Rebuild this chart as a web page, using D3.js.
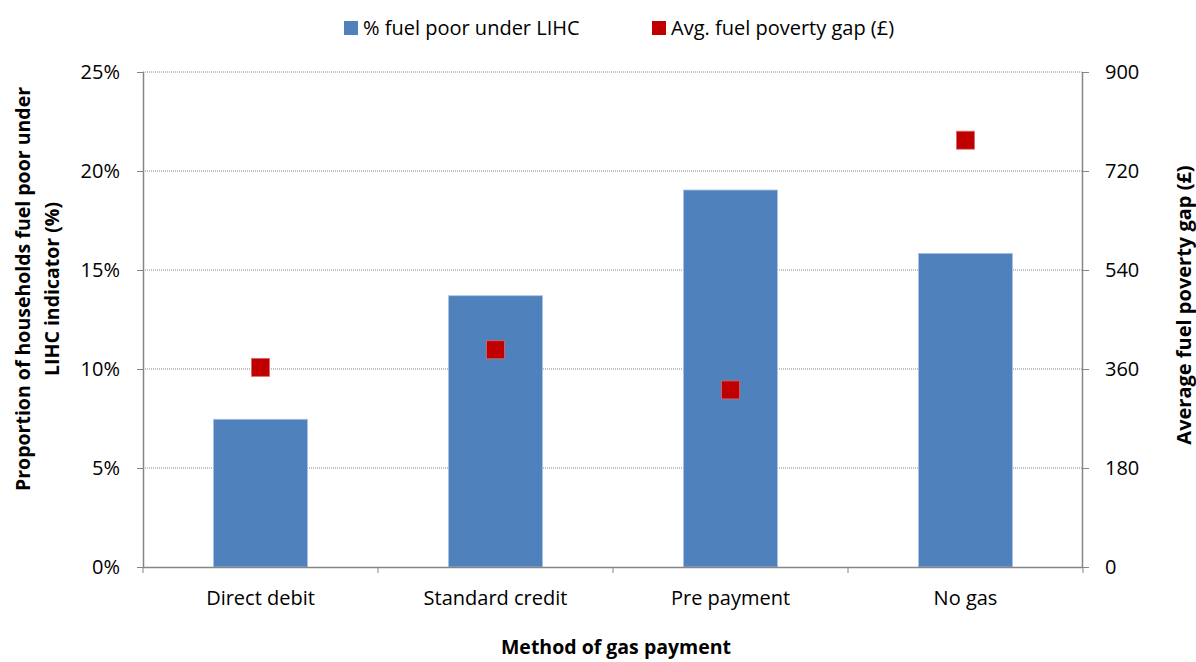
<!DOCTYPE html>
<html>
<head>
<meta charset="utf-8">
<script src="https://cdn.jsdelivr.net/npm/d3@7"></script>
<style>
  body { margin: 0; background: #fff; }
  text { font-family: "Open Sans", Lato, sans-serif; fill: #000; }
  .title { font-weight: bold; }
</style>
</head>
<body>
<div id="chart"></div>
<script>
// chart values
var categories = ["Direct debit", "Standard credit", "Pre payment", "No gas"];
var pctFuelPoor = [7.46, 13.7, 19.04, 15.84];     // % of households, left axis
var avgGap = [363, 395, 322, 776];                // pounds, right axis
var leftTicks = [0, 5, 10, 15, 20, 25];
var rightTicks = [0, 180, 360, 540, 720, 900];
var seriesNames = ["% fuel poor under LIHC", "Avg. fuel poverty gap (\u00a3)"];

var margin = {top: 72, right: 113, bottom: 95, left: 143},
    width = 1196 - margin.left - margin.right,
    height = 662 - margin.top - margin.bottom;

var barColour = "#4f81bd",
    markerColour = "#c00000",
    axisColour = "#868686",
    fontSize = "20px";

var svg = d3.select("#chart")
            .append("svg")
            .attr("width", 1196)
            .attr("height", 662);

var g = svg.append("g")
           .attr("transform", "translate(" + margin.left + "," + margin.top + ")");

var xScale = d3.scaleBand().domain(categories).range([0, width]).paddingInner(0).paddingOuter(0);
var yLeft = d3.scaleLinear().domain([0, 25]).range([height, 0]);
var yRight = d3.scaleLinear().domain([0, 900]).range([height, 0]);

// gridlines (dotted)
g.selectAll(".grid")
    .data(leftTicks.filter(function(d){ return d > 0; }))
    .enter().append("line")
    .attr("class", "grid")
    .attr("x1", 0)
    .attr("x2", width)
    .attr("y1", function(d){ return yLeft(d); })
    .attr("y2", function(d){ return yLeft(d); })
    .attr("stroke", axisColour)
    .attr("stroke-width", 1)
    .attr("stroke-dasharray", "1,1");

// bars
var barWidth = xScale.bandwidth() * 0.4;
g.selectAll(".bar")
    .data(pctFuelPoor)
    .enter().append("rect")
    .attr("class", "bar")
    .attr("x", function(d, i){ return xScale(categories[i]) + (xScale.bandwidth() - barWidth) / 2; })
    .attr("y", function(d){ return yLeft(d); })
    .attr("width", barWidth)
    .attr("height", function(d){ return height - yLeft(d); })
    .attr("fill", barColour)
    .attr("stroke", "#a9c2e0")
    .attr("stroke-width", 0.8);

// markers
var mSize = 18;
g.selectAll(".marker")
    .data(avgGap)
    .enter().append("rect")
    .attr("class", "marker")
    .attr("x", function(d, i){ return xScale(categories[i]) + xScale.bandwidth() / 2 - mSize / 2; })
    .attr("y", function(d){ return yRight(d) - mSize / 2; })
    .attr("width", mSize)
    .attr("height", mSize)
    .attr("fill", markerColour)
    .attr("stroke", "#d9696b")
    .attr("stroke-width", 0.8);

// left axis
var leftAxis = g.append("g")
    .attr("class", "yAxis")
    .call(d3.axisLeft(yLeft).tickValues(leftTicks).tickSize(6).tickPadding(17)
            .tickFormat(function(d){ return d + "%"; }));

// right axis
var rightAxis = g.append("g")
    .attr("class", "yAxis2")
    .attr("transform", "translate(" + width + ",0)")
    .call(d3.axisRight(yRight).tickValues(rightTicks).tickSize(6).tickPadding(16));

// x axis: ticks at the category boundaries
var xAxis = g.append("g")
    .attr("class", "xAxis")
    .attr("transform", "translate(0," + height + ")")
    .call(d3.axisBottom(xScale).tickSize(0).tickPadding(24));

xAxis.selectAll(".boundary")
    .data(d3.range(categories.length + 1))
    .enter().append("line")
    .attr("class", "boundary")
    .attr("x1", function(i){ return i * xScale.bandwidth(); })
    .attr("x2", function(i){ return i * xScale.bandwidth(); })
    .attr("y1", 0)
    .attr("y2", 6)
    .attr("stroke", axisColour);

[leftAxis, rightAxis, xAxis].forEach(function(a){
    a.select(".domain").attr("stroke", axisColour).attr("stroke-width", 1.5);
    a.selectAll(".tick line").attr("stroke", axisColour);
    a.selectAll("text").style("font-size", fontSize).attr("fill", "#000");
});
leftAxis.select(".domain").attr("d", "M0.5," + height + "V0");
rightAxis.select(".domain").attr("d", "M-0.5," + height + "V0");
xAxis.select(".domain").attr("d", "M0,0.5H" + width);

// axis titles
function addTitle(x, y, rotate, size, label){
    svg.append("text")
        .attr("class", "title")
        .attr("transform", "translate(" + x + "," + y + ")" + (rotate ? " rotate(-90)" : ""))
        .attr("text-anchor", "middle")
        .attr("dy", "0.35em")
        .style("font-size", size)
        .text(label);
}
addTitle(23, 289, true, "19.5px", "Proportion of households fuel poor under");
addTitle(52, 289, true, "19.5px", "LIHC indicator (%)");
addTitle(1184, 305, true, "20px", "Average fuel poverty gap (\u00a3)");
addTitle(margin.left + width / 2 + 3, 647, false, "19.5px", "Method of gas payment");

// legend
var legendX = [344, 652];
var legend = svg.selectAll(".legend")
    .data(seriesNames)
    .enter().append("g")
    .attr("class", "legend")
    .attr("transform", function(d, i){ return "translate(" + legendX[i] + ",28)"; });

legend.append("rect")
    .attr("x", 0)
    .attr("y", -7)
    .attr("width", 14)
    .attr("height", 14)
    .attr("fill", function(d, i){ return i === 0 ? barColour : markerColour; });

legend.append("text")
    .attr("x", 19)
    .attr("dy", "0.35em")
    .style("font-size", fontSize)
    .text(function(d){ return d; });
</script>
</body>
</html>
